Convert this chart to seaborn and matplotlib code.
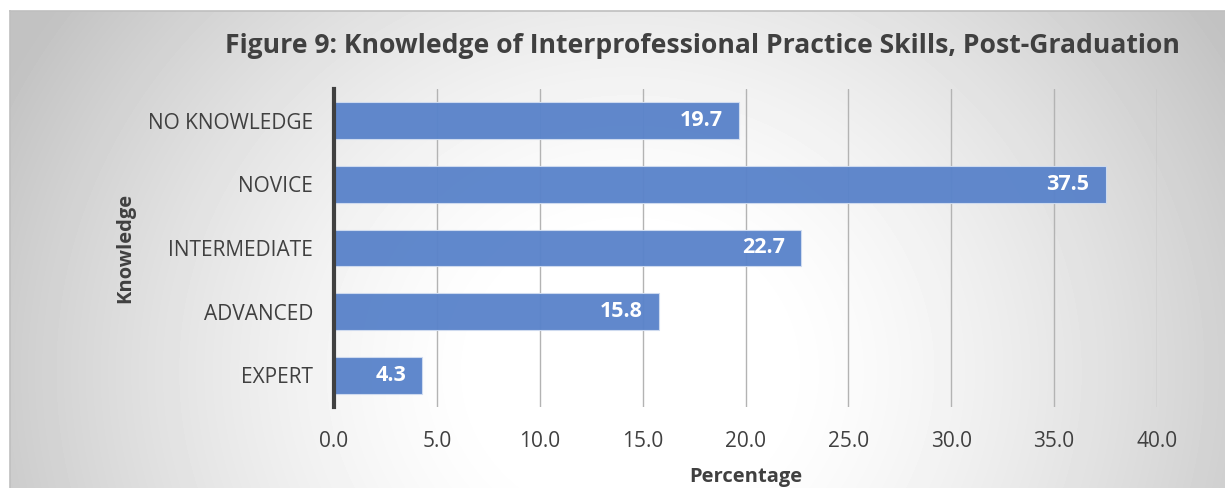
import numpy as np
import pandas as pd
import matplotlib
matplotlib.use("Agg")
import matplotlib.pyplot as plt
import seaborn as sns

# Survey results: self-rated knowledge of interprofessional practice skills
levels = ["NO KNOWLEDGE", "NOVICE", "INTERMEDIATE", "ADVANCED", "EXPERT"]
percentages = [19.7, 37.5, 22.7, 15.8, 4.3]
x_ticks = [0, 5, 10, 15, 20, 25, 30, 35, 40]

df = pd.DataFrame({"Knowledge": levels, "Percentage": percentages})

sns.set_theme(style="white")
plt.rcParams["font.family"] = ["Open Sans", "DejaVu Sans"]

W, H, DPI = 1225, 488, 100
fig = plt.figure(figsize=(W / DPI, H / DPI), dpi=DPI)
fig.patch.set_facecolor("white")

# Radial grey-to-white backdrop for the chart area
bg = fig.add_axes([10 / W, 0, 1 - 10 / W, 1 - 11 / H], zorder=-10)
gx, gy = np.meshgrid(np.arange(W - 10), np.arange(H - 11))
cx, cy = 620, 360
d = np.sqrt((gx - cx) ** 2 + ((gy - cy) * 1.1) ** 2)
shade = np.clip(1.0 - 0.24 * np.clip((d - 140) / 560.0, 0, None) ** 1.4, 0.76, 1.0)
bg.imshow(shade, cmap="gray", vmin=0, vmax=1, aspect="auto", interpolation="bilinear")
bg.set_axis_off()
bg_frame = fig.add_axes([10 / W, 0, 1 - 10 / W, 1 - 11 / H], zorder=-9)
bg_frame.patch.set_alpha(0)
bg_frame.set_xticks([])
bg_frame.set_yticks([])
for s in ("right", "bottom"):
    bg_frame.spines[s].set_visible(False)
for s in ("top", "left"):
    bg_frame.spines[s].set_color("#bfbfbf")
    bg_frame.spines[s].set_linewidth(1.2)

# Plot area
left, right = 334, 1157
top, bottom = 89, 407
ax = fig.add_axes([left / W, 1 - bottom / H, (right - left) / W, (bottom - top) / H])
ax.patch.set_alpha(0)

sns.barplot(data=df, x="Percentage", y="Knowledge", order=levels, orient="h",
            color="#5a83ca", saturation=1, width=0.58, edgecolor="#d0dcf0",
            linewidth=0.8, alpha=0.96, ax=ax, zorder=3)

ax.set_xlim(0, 40)
ax.set_ylim(4.5, -0.5)
ax.set_xticks(x_ticks)
ax.set_xticklabels([f"{v:.1f}" for v in x_ticks], fontsize=15, color="#404040")
ax.tick_params(axis="x", length=0, pad=17)
ax.tick_params(axis="y", length=0, pad=15, labelsize=15, labelcolor="#404040")
ax.xaxis.grid(True, color="#b3b3b3", linewidth=1.0, zorder=0)
ax.yaxis.grid(False)
ax.set_axisbelow(True)

for s in ("top", "right", "bottom"):
    ax.spines[s].set_visible(False)
ax.spines["left"].set_color("#404040")
ax.spines["left"].set_linewidth(3)
ax.spines["left"].set_zorder(5)

# Value labels inside the bar ends
for i, v in enumerate(percentages):
    ax.text(v - 0.8, i, f"{v:.1f}", ha="right", va="center", color="white",
            fontsize=15.5, fontweight="bold", zorder=6)

ax.set_xlabel("Percentage", fontsize=14.5, fontweight="bold", color="#404040", labelpad=11)
ax.set_ylabel("Knowledge", fontsize=14.5, fontweight="bold", color="#404040", labelpad=9)

fig.text(1180 / W, 1 - 46 / H, "Figure 9: Knowledge of Interprofessional Practice Skills, Post-Graduation",
         ha="right", va="center", fontsize=19.1, fontweight="bold", color="#404040")

fig.savefig("out.png", dpi=DPI)
